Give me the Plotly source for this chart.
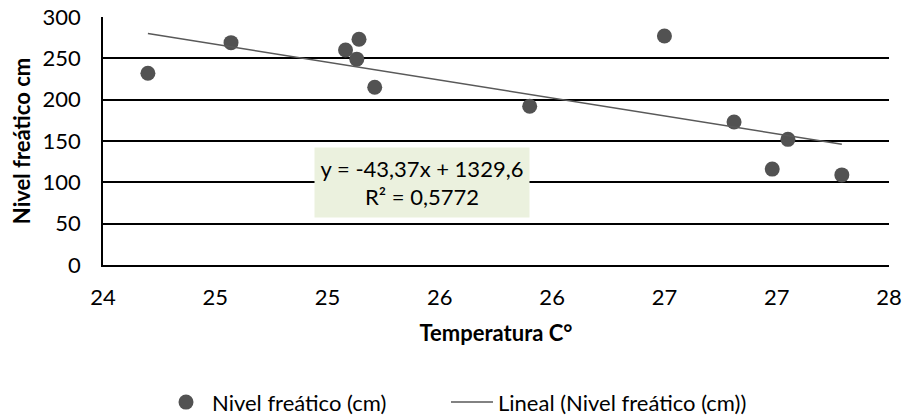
import plotly.graph_objects as go

# Data
temperatura = [24.20, 24.57, 25.08, 25.14, 25.13, 25.21, 25.90, 26.50, 26.81, 27.05, 26.98, 27.29]
nivel = [232, 269, 260, 273, 249, 215, 192, 277, 173, 152, 116, 109]

# Trendline coefficients shown on the chart
slope = -43.37
intercept = 1329.6
r2_text = "R² = 0,5772"
eq_text = "y = -43,37x + 1329,6"

x_tickvals = [24.0, 24.5, 25.0, 25.5, 26.0, 26.5, 27.0, 27.5]
x_ticktext = ["24", "25", "25", "26", "26", "27", "27", "28"]
y_tickvals = [0, 50, 100, 150, 200, 250, 300]

FONT = "Lato"

x_trend = [min(temperatura), max(temperatura)]
y_trend = [slope * v + intercept for v in x_trend]

fig = go.Figure()
fig.add_trace(go.Scatter(
    x=temperatura, y=nivel, mode="markers", name="Nivel freático (cm)",
    marker=dict(size=15, color="#525252", line=dict(width=0)),
    legend="legend",
))
fig.add_trace(go.Scatter(
    x=x_trend, y=y_trend, mode="lines", name="Lineal (Nivel freático (cm))",
    line=dict(color="#595959", width=1.5),
    legend="legend2",
))

fig.add_annotation(
    xref="paper", yref="paper", x=0.406, y=0.332,
    xanchor="center", yanchor="middle",
    text=eq_text + "<br>" + r2_text, showarrow=False,
    width=212, height=67, align="center", valign="middle",
    bgcolor="#EBF1DE", font=dict(family=FONT, size=22, color="#000000"),
)

legend_common = dict(orientation="h", xref="container", yref="container",
                     xanchor="left", y=0.033, yanchor="middle", itemwidth=42,
                     font=dict(family=FONT, size=22, color="#000000"),
                     bgcolor="rgba(0,0,0,0)")

fig.update_layout(
    width=904, height=416,
    margin=dict(l=103, r=15, t=17, b=151, autoexpand=False),
    paper_bgcolor="white", plot_bgcolor="white",
    font=dict(family=FONT, size=22, color="#000000"),
    showlegend=True,
    legend=dict(x=160 / 904, **legend_common),
    legend2=dict(x=446 / 904, **legend_common),
    xaxis=dict(
        range=[24, 27.5], tickvals=x_tickvals, ticktext=x_ticktext,
        showgrid=False, zeroline=False, showline=True, linecolor="#000000", linewidth=1.5,
        ticks="", ticklabelstandoff=12, automargin=False,
        title=dict(text="<b>Temperatura C°</b>", standoff=16,
                   font=dict(family=FONT, size=22, color="#000000")),
    ),
    yaxis=dict(
        range=[0, 300], tickvals=y_tickvals,
        showgrid=True, gridcolor="#000000", gridwidth=1.5,
        zeroline=False, showline=True, linecolor="#000000", linewidth=1.5,
        ticks="", ticklabelstandoff=16, automargin=False,
        title=dict(text="<b>Nivel freático cm</b>", standoff=6,
                   font=dict(family=FONT, size=22, color="#000000")),
    ),
)

fig.write_html(
    "out.html",
    config={"displayModeBar": False},
    post_script="document.body.style.margin='0';document.body.style.overflow='hidden';",
)
